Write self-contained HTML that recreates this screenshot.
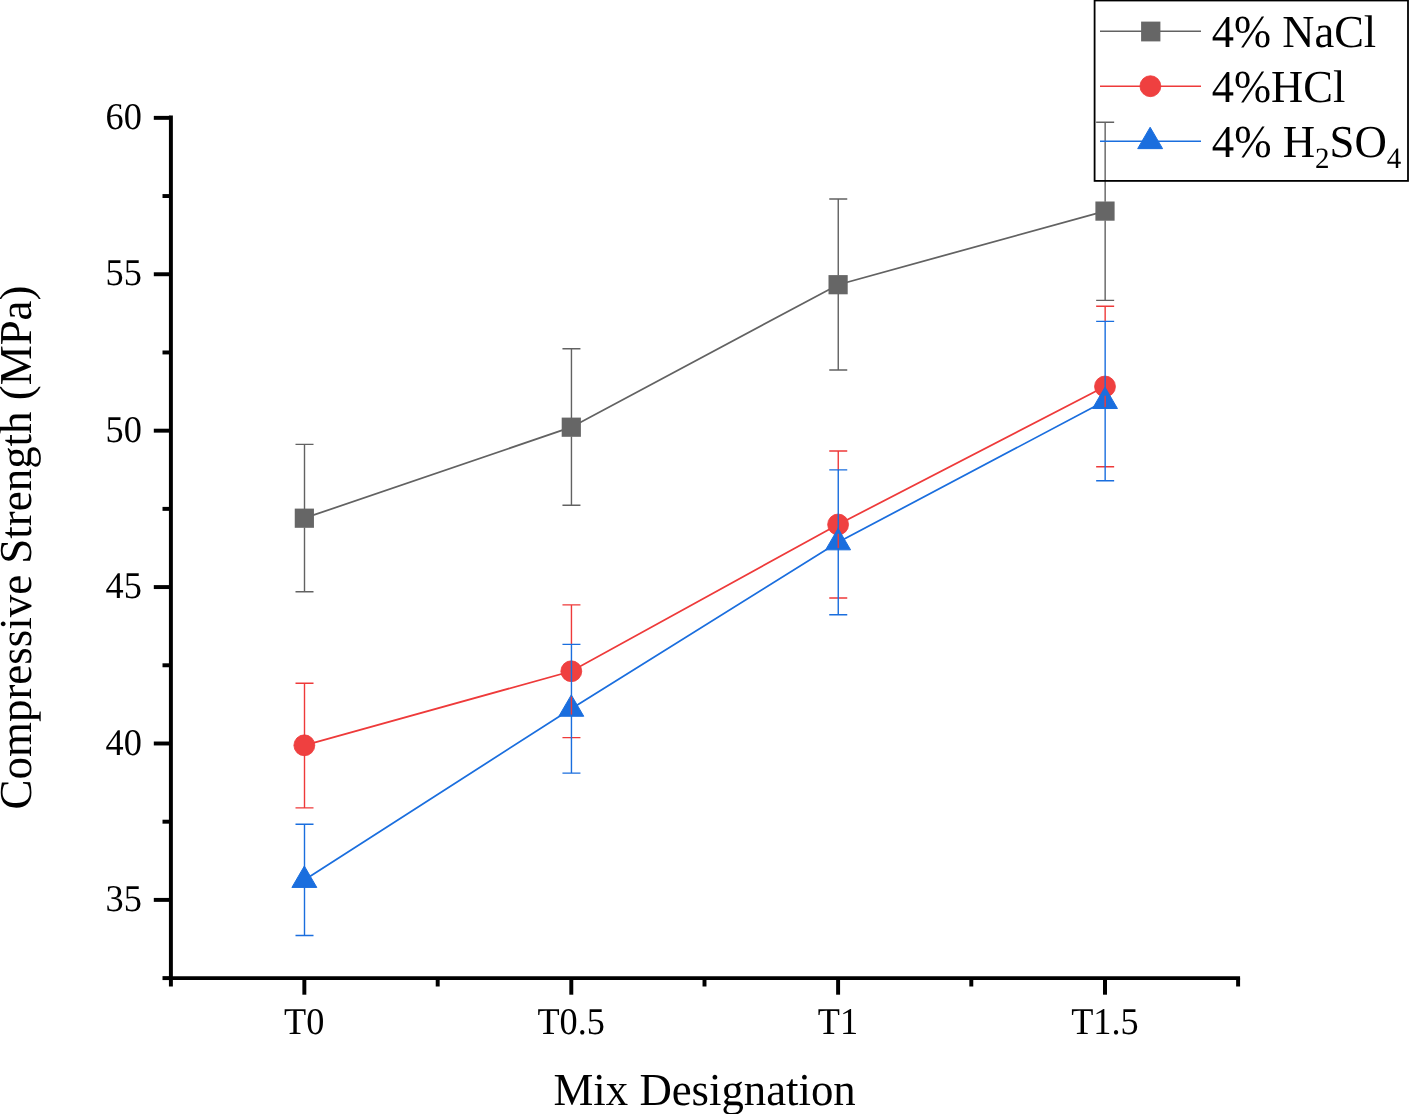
<!DOCTYPE html>
<html><head><meta charset="utf-8"><title>Compressive Strength vs Mix Designation</title>
<style>
html,body{margin:0;padding:0;background:#ffffff;}
body{width:1409px;height:1114px;overflow:hidden;position:relative;font-family:"Liberation Serif",serif;}
svg{position:absolute;left:0;top:0;display:block;will-change:transform;}
text{font-family:"Liberation Serif",serif;fill:#000;text-rendering:geometricPrecision;}
.tick{font-size:37.5px;}
.title{font-size:44.7px;}
.leg{font-size:44.7px;}
</style></head><body>
<svg width="1409" height="1114" viewBox="0 0 1409 1114">
<rect x="0" y="0" width="1409" height="1114" fill="#ffffff"/>

<g stroke="#000" stroke-width="3.95" fill="none" stroke-linecap="butt">
<line x1="170.9" y1="115.42500000000001" x2="170.9" y2="980.075"/>
<line x1="168.925" y1="978.1" x2="1240.0749999999998" y2="978.1"/>
<line x1="153.8" y1="899.89" x2="170.9" y2="899.89"/>
<line x1="153.8" y1="743.49" x2="170.9" y2="743.49"/>
<line x1="153.8" y1="587.08" x2="170.9" y2="587.08"/>
<line x1="153.8" y1="430.67" x2="170.9" y2="430.67"/>
<line x1="153.8" y1="274.25" x2="170.9" y2="274.25"/>
<line x1="153.8" y1="117.85" x2="170.9" y2="117.85"/>
<line x1="162.5" y1="978.10" x2="170.9" y2="978.10"/>
<line x1="162.5" y1="821.69" x2="170.9" y2="821.69"/>
<line x1="162.5" y1="665.28" x2="170.9" y2="665.28"/>
<line x1="162.5" y1="508.87" x2="170.9" y2="508.87"/>
<line x1="162.5" y1="352.46" x2="170.9" y2="352.46"/>
<line x1="162.5" y1="196.05" x2="170.9" y2="196.05"/>
<line x1="304.35" y1="978.1" x2="304.35" y2="994.7"/>
<line x1="571.3" y1="978.1" x2="571.3" y2="994.7"/>
<line x1="838.1" y1="978.1" x2="838.1" y2="994.7"/>
<line x1="1105.0" y1="978.1" x2="1105.0" y2="994.7"/>
<line x1="170.90" y1="978.1" x2="170.90" y2="986.5"/>
<line x1="437.70" y1="978.1" x2="437.70" y2="986.5"/>
<line x1="704.50" y1="978.1" x2="704.50" y2="986.5"/>
<line x1="971.30" y1="978.1" x2="971.30" y2="986.5"/>
<line x1="1238.10" y1="978.1" x2="1238.10" y2="986.5"/>
</g>
<text transform="translate(141.90,910.94) scale(0.962,1)" text-anchor="end" font-size="37.75px">35</text>
<text transform="translate(141.90,754.53) scale(0.962,1)" text-anchor="end" font-size="37.75px">40</text>
<text transform="translate(141.90,598.12) scale(0.962,1)" text-anchor="end" font-size="37.75px">45</text>
<text transform="translate(141.90,441.72) scale(0.962,1)" text-anchor="end" font-size="37.75px">50</text>
<text transform="translate(141.90,285.31) scale(0.962,1)" text-anchor="end" font-size="37.75px">55</text>
<text transform="translate(141.90,128.90) scale(0.962,1)" text-anchor="end" font-size="37.75px">60</text>
<text transform="translate(304.25,1034.30) scale(0.96,1)" text-anchor="middle" font-size="37.75px">T0</text>
<text transform="translate(571.20,1034.30) scale(0.96,1)" text-anchor="middle" font-size="37.75px">T0.5</text>
<text transform="translate(838.00,1034.30) scale(0.96,1)" text-anchor="middle" font-size="37.75px">T1</text>
<text transform="translate(1104.90,1034.30) scale(0.96,1)" text-anchor="middle" font-size="37.75px">T1.5</text>
<text transform="translate(704.65,1104.90) scale(0.98,1)" text-anchor="middle" font-size="45.7px">Mix Designation</text>
<text transform="translate(31.2,547.45) rotate(-90) scale(0.983,1)" text-anchor="middle" font-size="45.7px">Compressive Strength (MPa)</text>
<polyline points="304.35,518.20 571.30,427.20 838.10,284.70 1105.00,211.10" fill="none" stroke="#626262" stroke-width="1.75"/>
<rect x="294.75" y="508.60" width="19.2" height="19.2" fill="#666666"/>
<rect x="561.70" y="417.60" width="19.2" height="19.2" fill="#666666"/>
<rect x="828.50" y="275.10" width="19.2" height="19.2" fill="#666666"/>
<rect x="1095.40" y="201.50" width="19.2" height="19.2" fill="#666666"/>
<path d="M304.50 508.90V444.40M295.50 444.40H313.50M304.50 527.50V591.70M295.50 591.70H313.50" fill="none" stroke="#626262" stroke-width="1.4"/>
<path d="M571.45 417.90V348.70M562.45 348.70H580.45M571.45 436.50V505.20M562.45 505.20H580.45" fill="none" stroke="#626262" stroke-width="1.4"/>
<path d="M838.25 275.40V199.00M829.25 199.00H847.25M838.25 294.00V370.00M829.25 370.00H847.25" fill="none" stroke="#626262" stroke-width="1.4"/>
<path d="M1105.15 201.80V122.30M1096.15 122.30H1114.15M1105.15 220.40V300.40M1096.15 300.40H1114.15" fill="none" stroke="#626262" stroke-width="1.4"/>
<polyline points="304.35,745.30 571.30,671.25 838.10,524.50 1105.00,386.50" fill="none" stroke="#ee3a3a" stroke-width="1.75"/>
<circle cx="304.35" cy="745.30" r="10.45" fill="#ef4040" stroke="#ee3a3a" stroke-width="0.8"/>
<circle cx="571.30" cy="671.25" r="10.45" fill="#ef4040" stroke="#ee3a3a" stroke-width="0.8"/>
<circle cx="838.10" cy="524.50" r="10.45" fill="#ef4040" stroke="#ee3a3a" stroke-width="0.8"/>
<circle cx="1105.00" cy="386.50" r="10.45" fill="#ef4040" stroke="#ee3a3a" stroke-width="0.8"/>
<polyline points="304.35,879.90 571.30,708.75 838.10,542.30 1105.00,401.00" fill="none" stroke="#1a6ede" stroke-width="1.75"/>
<polygon points="304.35,866.03 316.80,887.43 291.90,887.43" fill="#1a6ede" stroke="#1a6ede" stroke-width="1" stroke-linejoin="round"/>
<polygon points="571.30,694.88 583.75,716.28 558.85,716.28" fill="#1a6ede" stroke="#1a6ede" stroke-width="1" stroke-linejoin="round"/>
<polygon points="838.10,528.43 850.55,549.83 825.65,549.83" fill="#1a6ede" stroke="#1a6ede" stroke-width="1" stroke-linejoin="round"/>
<polygon points="1105.00,387.13 1117.45,408.53 1092.55,408.53" fill="#1a6ede" stroke="#1a6ede" stroke-width="1" stroke-linejoin="round"/>
<path d="M304.50 683.20V736.00M304.50 754.60V807.90M295.50 683.20H313.50M295.50 807.90H313.50" fill="none" stroke="#ee3a3a" stroke-width="1.4"/>
<path d="M571.45 604.90V644.40M571.45 696.40V714.70M562.45 604.90H580.45M562.45 737.60H580.45" fill="none" stroke="#ee3a3a" stroke-width="1.4"/>
<path d="M838.25 451.00V469.90M838.25 533.80V548.25M829.25 451.00H847.25M829.25 598.00H847.25" fill="none" stroke="#ee3a3a" stroke-width="1.4"/>
<path d="M1105.15 306.30V321.40M1105.15 395.80V406.95M1096.15 306.30H1114.15M1096.15 466.80H1114.15" fill="none" stroke="#ee3a3a" stroke-width="1.4"/>
<path d="M304.50 867.55V824.30M295.50 824.30H313.50M304.50 885.85V935.50M295.50 935.50H313.50" fill="none" stroke="#1a6ede" stroke-width="1.4"/>
<path d="M571.45 696.40V644.40M562.45 644.40H580.45M571.45 714.70V773.10M562.45 773.10H580.45" fill="none" stroke="#1a6ede" stroke-width="1.4"/>
<path d="M838.25 529.95V469.90M829.25 469.90H847.25M838.25 548.25V614.70M829.25 614.70H847.25" fill="none" stroke="#1a6ede" stroke-width="1.4"/>
<path d="M1105.15 388.65V321.40M1096.15 321.40H1114.15M1105.15 406.95V480.70M1096.15 480.70H1114.15" fill="none" stroke="#1a6ede" stroke-width="1.4"/>
<rect x="1094.6" y="0.5" width="313.4" height="180.4" fill="none" stroke="#000" stroke-width="1.8" id="legbox"/>
<line x1="1100" y1="31.3" x2="1201" y2="31.3" stroke="#626262" stroke-width="1.4"/>
<line x1="1100" y1="86.3" x2="1201" y2="86.3" stroke="#ee3a3a" stroke-width="1.4"/>
<line x1="1100" y1="141.3" x2="1201" y2="141.3" stroke="#1a6ede" stroke-width="1.4"/>
<rect x="1141.10" y="21.6" width="19.3" height="19.8" fill="#666666"/>
<circle cx="1150.4" cy="86.2" r="10.45" fill="#ef4040" stroke="#ee3a3a" stroke-width="0.8"/>
<polygon points="1150.15,127.23 1162.60,148.63 1137.70,148.63" fill="#1a6ede" stroke="#1a6ede" stroke-width="1" stroke-linejoin="round"/>
<text transform="translate(1211.80,46.70) scale(0.974,1)" text-anchor="start" font-size="45.7px">4% NaCl</text>
<text transform="translate(1211.80,101.70) scale(0.974,1)" text-anchor="start" font-size="45.7px">4%HCl</text>
<text transform="translate(1211.80,157.10) scale(0.98,1)" text-anchor="start" font-size="45.7px">4% H<tspan font-size="29.6px" dy="11.1">2</tspan><tspan dy="-11.1">SO</tspan><tspan font-size="29.6px" dy="11.1">4</tspan></text>
</svg></body></html>
